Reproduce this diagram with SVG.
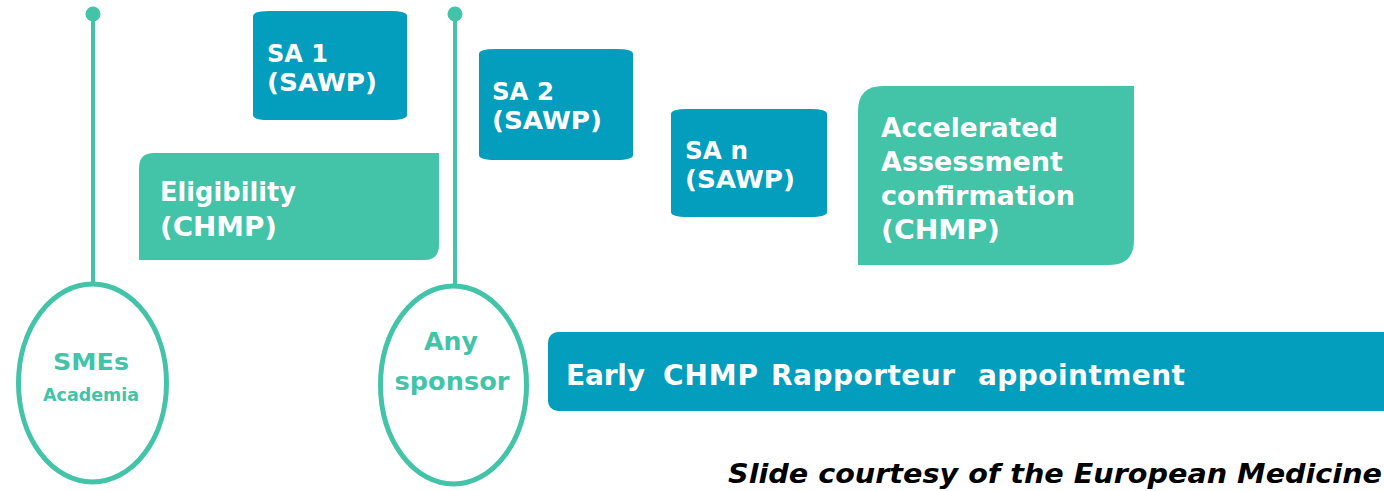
<svg xmlns="http://www.w3.org/2000/svg" width="1384" height="491" viewBox="0 0 1384 491">
<style>
.g{fill:#43C3A7}
.b{fill:#039DBD}
.t{font-family:"DejaVu Sans",Verdana,sans-serif;font-weight:bold;fill:#fff}
.gt{font-family:"DejaVu Sans",Verdana,sans-serif;font-weight:bold;fill:#43C3A7;text-anchor:middle}
.ln{stroke:#43C3A7;stroke-width:4;fill:none}
.el{stroke:#43C3A7;stroke-width:5;fill:#fff}
</style>
<rect width="1384" height="491" fill="#fff"/>
<g id="connectors">
<line class="ln" x1="93" y1="14" x2="93" y2="283"/>
<circle cx="93" cy="14" r="7.5" class="g"/>
<line class="ln" x1="455" y1="14" x2="455" y2="285"/>
<circle cx="455" cy="14" r="7.5" class="g"/>
</g>
<g id="sa1">
<path class="b" d="M253,16 Q253,11 270,11 L390,11 Q407,11 407,16 L407,115 Q407,120 390,120 L270,120 Q253,120 253,115 Z"/>
<text class="t" font-size="24" lengthAdjust="spacingAndGlyphs" x="267" y="62" textLength="61">SA 1</text>
<text class="t" font-size="24" lengthAdjust="spacingAndGlyphs" x="267" y="91" textLength="110">(SAWP)</text>
</g>
<g id="sa2">
<path class="b" d="M479,54 Q479,49 496,49 L616,49 Q633,49 633,54 L633,155 Q633,160 616,160 L496,160 Q479,160 479,155 Z"/>
<text class="t" font-size="24" lengthAdjust="spacingAndGlyphs" x="492" y="100" textLength="62">SA 2</text>
<text class="t" font-size="24" lengthAdjust="spacingAndGlyphs" x="492" y="129" textLength="110">(SAWP)</text>
</g>
<g id="san">
<path class="b" d="M671,114 Q671,109 688,109 L810,109 Q827,109 827,114 L827,212 Q827,217 810,217 L688,217 Q671,217 671,212 Z"/>
<text class="t" font-size="24" lengthAdjust="spacingAndGlyphs" x="685" y="159" textLength="63">SA n</text>
<text class="t" font-size="24" lengthAdjust="spacingAndGlyphs" x="685" y="188" textLength="110">(SAWP)</text>
</g>
<g id="eligibility">
<path class="g" d="M154,153 L439,153 L439,245 Q439,260 424,260 L139,260 L139,168 Q139,153 154,153 Z"/>
<text class="t" font-size="27" lengthAdjust="spacingAndGlyphs" x="160" y="201" textLength="136">Eligibility</text>
<text class="t" font-size="27" lengthAdjust="spacingAndGlyphs" x="160" y="236" textLength="117">(CHMP)</text>
</g>
<g id="accelerated">
<path class="g" d="M883,86 L1134,86 L1134,240 Q1134,265 1109,265 L858,265 L858,111 Q858,86 883,86 Z"/>
<text class="t" font-size="27" lengthAdjust="spacingAndGlyphs" x="881" y="137" textLength="177">Accelerated</text>
<text class="t" font-size="27" lengthAdjust="spacingAndGlyphs" x="881" y="171" textLength="182">Assessment</text>
<text class="t" font-size="27" lengthAdjust="spacingAndGlyphs" x="881" y="205" textLength="194">confirmation</text>
<text class="t" font-size="27" lengthAdjust="spacingAndGlyphs" x="881" y="239" textLength="119">(CHMP)</text>
</g>
<g id="smes">
<ellipse class="el" cx="92.5" cy="383" rx="74" ry="99"/>
<text class="gt" x="91" y="370" font-size="23" textLength="76" lengthAdjust="spacingAndGlyphs">SMEs</text>
<text class="gt" x="91" y="401" font-size="17" textLength="96" lengthAdjust="spacingAndGlyphs">Academia</text>
</g>
<g id="sponsor">
<ellipse class="el" cx="453.5" cy="385" rx="73" ry="99"/>
<text class="gt" x="451" y="350" font-size="25" textLength="54" lengthAdjust="spacingAndGlyphs">Any</text>
<text class="gt" x="452" y="390" font-size="25" textLength="115" lengthAdjust="spacingAndGlyphs">sponsor</text>
</g>
<g id="early">
<rect class="b" x="548" y="332" width="850" height="79" rx="10"/>
<text class="t" y="385" font-size="28" lengthAdjust="spacingAndGlyphs"><tspan x="566" textLength="79">Early</tspan> <tspan x="663" textLength="95">CHMP</tspan> <tspan x="771" textLength="184">Rapporteur</tspan> <tspan x="978" textLength="207">appointment</tspan></text>
</g>
<text x="728" y="483" font-family="'DejaVu Sans',Verdana,sans-serif" font-weight="bold" font-style="italic" font-size="26" fill="#000" textLength="654" lengthAdjust="spacingAndGlyphs">Slide courtesy of the European Medicine</text>
</svg>
